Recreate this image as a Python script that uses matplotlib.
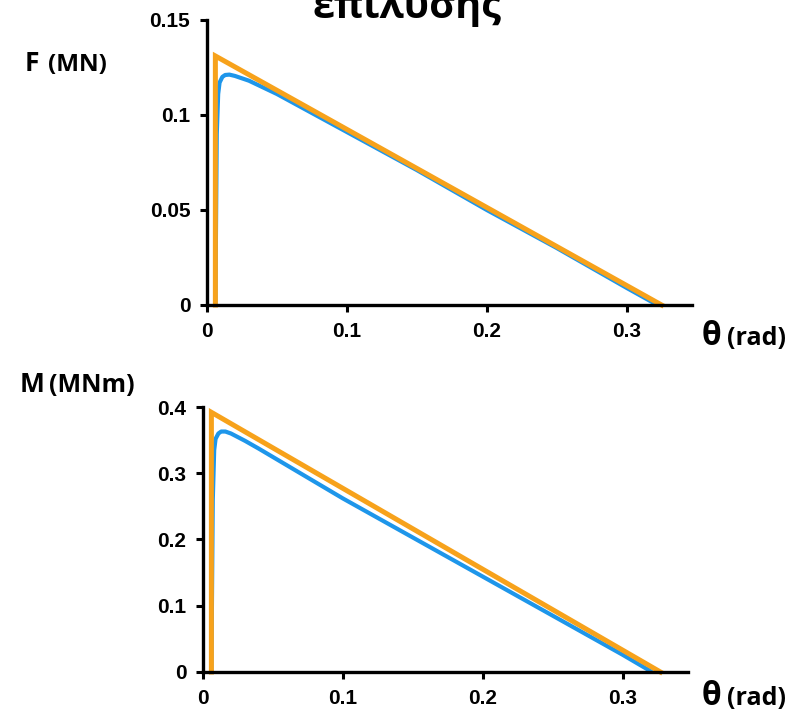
import numpy as np
import matplotlib
matplotlib.use('Agg')
import matplotlib.pyplot as plt

font_size = 15

plt.rcParams.update({
    'font.family': ['Liberation Sans', 'DejaVu Sans'],
    'font.weight': 'bold',
    'axes.linewidth': 2.4,
    'xtick.major.width': 2.2,
    'ytick.major.width': 2.2,
    'xtick.major.size': 5,
    'ytick.major.size': 5,
    'xtick.labelsize': font_size,
    'ytick.labelsize': font_size,
})

orange = '#F7A21B'
blue = '#1E96EA'

# force F (MN) vs rotation theta (rad)
theta_f_num = [0.006, 0.007, 0.008, 0.009, 0.011, 0.013, 0.016, 0.020, 0.030, 0.040, 0.050,
               0.060, 0.080, 0.100, 0.150, 0.200, 0.250, 0.300, 0.322]
f_num = [0.0, 0.090, 0.111, 0.117, 0.120, 0.121, 0.1212, 0.1205, 0.118, 0.1145, 0.111,
         0.107, 0.099, 0.091, 0.071, 0.050, 0.030, 0.009, 0.0]
theta_f_ana = [0.006, 0.006, 0.325]
f_ana = [0.0, 0.131, 0.0]

# moment M (MNm) vs rotation theta (rad)
theta_m_num = [0.006, 0.007, 0.008, 0.009, 0.011, 0.013, 0.016, 0.020, 0.030, 0.040, 0.060,
               0.080, 0.100, 0.150, 0.200, 0.250, 0.300, 0.321]
m_num = [0.0, 0.260, 0.335, 0.352, 0.360, 0.363, 0.363, 0.360, 0.349, 0.337, 0.312,
         0.287, 0.262, 0.203, 0.144, 0.085, 0.026, 0.0]
theta_m_ana = [0.006, 0.006, 0.327]
m_ana = [0.0, 0.392, 0.0]

xticks = [0, 0.1, 0.2, 0.3]
xticklabels = ['0', '0.1', '0.2', '0.3']
f_ticks = [0, 0.05, 0.1, 0.15]
f_ticklabels = ['0', '0.05', '0.1', '0.15']
m_ticks = [0, 0.1, 0.2, 0.3, 0.4]
m_ticklabels = ['0', '0.1', '0.2', '0.3', '0.4']

fig = plt.figure(figsize=(7.97, 7.2), dpi=100)
ax1 = fig.add_axes([0.2597, 0.5764, 0.609, 0.396])
ax2 = fig.add_axes([0.2547, 0.0667, 0.609, 0.368])


def style(ax, ymax, yticks, yticklabels):
    ax.set_xlim(0, 0.347)
    ax.set_ylim(0, ymax)
    ax.set_xticks(xticks)
    ax.set_xticklabels(xticklabels)
    ax.set_yticks(yticks)
    ax.set_yticklabels(yticklabels)
    ax.spines['top'].set_visible(False)
    ax.spines['right'].set_visible(False)
    ax.tick_params(axis='x', direction='out', pad=7)
    ax.tick_params(axis='y', direction='out', pad=7)


ax1.plot(theta_f_num, f_num, color=blue, lw=3.0, solid_capstyle='butt', clip_on=False)
ax1.plot(theta_f_ana, f_ana, color=orange, lw=3.6, solid_joinstyle='miter', clip_on=False)
style(ax1, 0.15, f_ticks, f_ticklabels)

ax2.plot(theta_m_num, m_num, color=blue, lw=3.0, solid_capstyle='butt', clip_on=False)
ax2.plot(theta_m_ana, m_ana, color=orange, lw=3.6, solid_joinstyle='miter', clip_on=False)
style(ax2, 0.4, m_ticks, m_ticklabels)

lab = ['Open Sans', 'DejaVu Sans']
fig.text(0.511, 1 - 18 / 720, 'επίλυσης', ha='center', va='baseline', fontsize=28.5,
         weight='bold', family=lab)

fig.text(25 / 797, 1 - 71 / 720, 'F', fontsize=19, weight='bold', family=lab, va='baseline')
fig.text(48 / 797, 1 - 71 / 720, '(MN)', fontsize=17.5, weight='bold', family=lab, va='baseline')
fig.text(20 / 797, 1 - 392 / 720, 'M', fontsize=19, weight='bold', family=lab, va='baseline')
fig.text(49 / 797, 1 - 392 / 720, '(MNm)', fontsize=18, weight='bold', family=lab, va='baseline')

for yb in (345, 705):
    fig.text(702 / 797, 1 - yb / 720, 'θ', fontsize=23, weight='bold', family=lab, va='baseline')
    fig.text(727 / 797, 1 - yb / 720, '(rad)', fontsize=18, weight='bold', family=lab, va='baseline')

plt.savefig('out.png', dpi=100)
